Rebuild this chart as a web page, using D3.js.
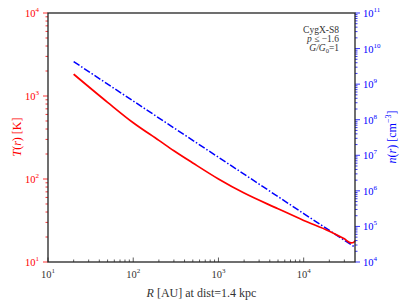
<!DOCTYPE html>
<html>
<head>
<meta charset="utf-8">
<script src="https://cdn.jsdelivr.net/npm/d3@7"></script>
<style>
  body { margin: 0; background: #fff; }
  svg text { font-family: "Liberation Serif", "DejaVu Serif", serif; }
</style>
</head>
<body>
<div id="chart"></div>
<script>

// radius in AU
var radius_T = [20, 50, 100, 200, 300, 500, 1000, 2000, 5000, 10000, 20000, 30000, 36000, 38500, 40000];
// temperature T(r) in K
var temp_T = [1832, 839, 476, 292, 219, 156, 100, 67.6, 43.8, 31.7, 23.5, 19.0, 17.0, 17.2, 18.0];

// density n(r) in cm^-3 (dash-dot line)
var radius_n = [20, 100, 1000, 10000, 40000];
var dens_n = [4.3e9, 3.35e8, 8.8e6, 2.3e5, 2.6e4];

// tick decades
var x_ticks = [1e1, 1e2, 1e3, 1e4];
var yl_ticks = [1e1, 1e2, 1e3, 1e4];
var yr_ticks = [1e4, 1e5, 1e6, 1e7, 1e8, 1e9, 1e10, 1e11];

var notes = ["CygX-S8", "p ≤ −1.6", "G/G0=1"];

// chart options
var width = 407, height = 305,
	margin = { top: 13, left: 48, bottom: 43, right: 52 };
var chartWidth = width - (margin.left + margin.right);
var chartHeight = height - (margin.top + margin.bottom);

var red = "#ff0000", blue = "#0000ff";

var svg = d3.select("#chart").append("svg")
	.attr("width", width)
	.attr("height", height);

var g = svg.append("g")
	.attr("transform", "translate(" + [margin.left, margin.top] + ")");

// scales
var x = d3.scaleLog().domain([10, 4e4]).range([0, chartWidth]);
var yL = d3.scaleLog().domain([10, 1e4]).range([chartHeight, 0]);
var yR = d3.scaleLog().domain([1e4, 1e11]).range([chartHeight, 0]);

// minor ticks helper: 2..9 of every decade inside the domain
function minors(scale) {
	var d = scale.domain(), out = [];
	var lo = Math.floor(Math.log10(d[0])), hi = Math.ceil(Math.log10(d[1]));
	for (var e = lo; e < hi; e++) {
		for (var k = 2; k < 10; k++) {
			var v = k * Math.pow(10, e);
			if (v > d[0] && v < d[1]) out.push(v);
		}
	}
	return out;
}

// power of ten label with a superscript
function powLabel(sel) {
	sel.each(function(d) {
		var t = d3.select(this);
		t.text("");
		t.append("tspan").text("10");
		t.append("tspan")
			.attr("font-size", "7px")
			.attr("dy", "-5")
			.text(Math.round(Math.log10(d)));
	});
}

// bottom axis, ticks inside
g.selectAll("line.xmin").data(minors(x)).enter().append("line")
	.attr("x1", function(d) { return x(d); }).attr("x2", function(d) { return x(d); })
	.attr("y1", chartHeight).attr("y2", chartHeight - 2.5)
	.attr("stroke", "#333").attr("stroke-width", 0.8);
g.selectAll("line.xmaj").data(x_ticks).enter().append("line")
	.attr("x1", function(d) { return x(d); }).attr("x2", function(d) { return x(d); })
	.attr("y1", chartHeight).attr("y2", chartHeight - 4.5)
	.attr("stroke", "#333").attr("stroke-width", 0.8);
g.selectAll("text.xlab").data(x_ticks).enter().append("text")
	.attr("x", function(d) { return x(d); })
	.attr("y", chartHeight + 16)
	.attr("text-anchor", "middle")
	.attr("font-size", "10.5px")
	.attr("fill", "#333")
	.call(powLabel);

// left axis (temperature), ticks outside, red
g.selectAll("line.ylmin").data(minors(yL)).enter().append("line")
	.attr("y1", function(d) { return yL(d); }).attr("y2", function(d) { return yL(d); })
	.attr("x1", 0).attr("x2", -2.5)
	.attr("stroke", red).attr("stroke-width", 0.8);
g.selectAll("line.ylmaj").data(yl_ticks).enter().append("line")
	.attr("y1", function(d) { return yL(d); }).attr("y2", function(d) { return yL(d); })
	.attr("x1", 0).attr("x2", -5)
	.attr("stroke", red).attr("stroke-width", 0.8);
g.selectAll("text.yllab").data(yl_ticks).enter().append("text")
	.attr("x", -9)
	.attr("y", function(d) { return yL(d) + 4; })
	.attr("text-anchor", "end")
	.attr("font-size", "10.5px")
	.attr("fill", red)
	.call(powLabel);

// right axis (density), ticks outside, blue
g.selectAll("line.yrmin").data(minors(yR)).enter().append("line")
	.attr("y1", function(d) { return yR(d); }).attr("y2", function(d) { return yR(d); })
	.attr("x1", chartWidth).attr("x2", chartWidth + 2.5)
	.attr("stroke", blue).attr("stroke-width", 0.8);
g.selectAll("line.yrmaj").data(yr_ticks).enter().append("line")
	.attr("y1", function(d) { return yR(d); }).attr("y2", function(d) { return yR(d); })
	.attr("x1", chartWidth).attr("x2", chartWidth + 5)
	.attr("stroke", blue).attr("stroke-width", 0.8);
g.selectAll("text.yrlab").data(yr_ticks).enter().append("text")
	.attr("x", chartWidth + 8)
	.attr("y", function(d) { return yR(d) + 4; })
	.attr("text-anchor", "start")
	.attr("font-size", "10.5px")
	.attr("fill", blue)
	.call(powLabel);

// lines
var lineT = d3.line()
	.x(function(d) { return x(d[0]); })
	.y(function(d) { return yL(d[1]); })
	.curve(d3.curveMonotoneX);
var lineN = d3.line()
	.x(function(d) { return x(d[0]); })
	.y(function(d) { return yR(d[1]); });

g.append("path")
	.datum(d3.zip(radius_n, dens_n))
	.attr("d", lineN)
	.attr("fill", "none")
	.attr("stroke", blue)
	.attr("stroke-width", 1.5)
	.attr("stroke-dasharray", "7,2,1.5,2");

g.append("path")
	.datum(d3.zip(radius_T, temp_T))
	.attr("d", lineT)
	.attr("fill", "none")
	.attr("stroke", red)
	.attr("stroke-width", 1.7);

// frame
g.append("rect")
	.attr("width", chartWidth).attr("height", chartHeight)
	.attr("fill", "none")
	.attr("stroke", "#222")
	.attr("stroke-width", 1.3);

// notes, top right
var nt = g.append("text")
	.attr("text-anchor", "end")
	.attr("font-size", "9.5px")
	.attr("fill", "#333");
nt.append("tspan").attr("x", chartWidth - 16).attr("y", 20).text(notes[0]);
var l2 = nt.append("tspan").attr("x", chartWidth - 16).attr("y", 29);
l2.append("tspan").attr("font-style", "italic").text("p");
l2.append("tspan").text(notes[1].slice(1));
var l3 = nt.append("tspan").attr("x", chartWidth - 16).attr("y", 38);
l3.append("tspan").attr("font-style", "italic").text("G/G");
l3.append("tspan").attr("font-size", "6.5px").attr("dy", 2).text("0");
l3.append("tspan").attr("dy", -2).text("=1");

// axis titles
var xt = svg.append("text")
	.attr("x", margin.left + chartWidth / 2)
	.attr("y", 297)
	.attr("text-anchor", "middle")
	.attr("font-size", "12px")
	.attr("fill", "#333");
xt.append("tspan").attr("font-style", "italic").text("R");
xt.append("tspan").text(" [AU] at dist=1.4 kpc");

var ylt = svg.append("text")
	.attr("transform", "translate(21,137) rotate(-90)")
	.attr("text-anchor", "middle")
	.attr("font-size", "12px")
	.attr("fill", red);
ylt.append("tspan").attr("font-style", "italic").text("T");
ylt.append("tspan").text("(");
ylt.append("tspan").attr("font-style", "italic").text("r");
ylt.append("tspan").text(") [K]");

var yrt = svg.append("text")
	.attr("transform", "translate(396,137) rotate(-90)")
	.attr("text-anchor", "middle")
	.attr("font-size", "12px")
	.attr("fill", blue);
yrt.append("tspan").attr("font-style", "italic").text("n");
yrt.append("tspan").text("(");
yrt.append("tspan").attr("font-style", "italic").text("r");
yrt.append("tspan").text(") [cm");
yrt.append("tspan").attr("font-size", "8px").attr("dy", -5).text("−3");
yrt.append("tspan").attr("dy", 5).text("]");

</script>
</body>
</html>
